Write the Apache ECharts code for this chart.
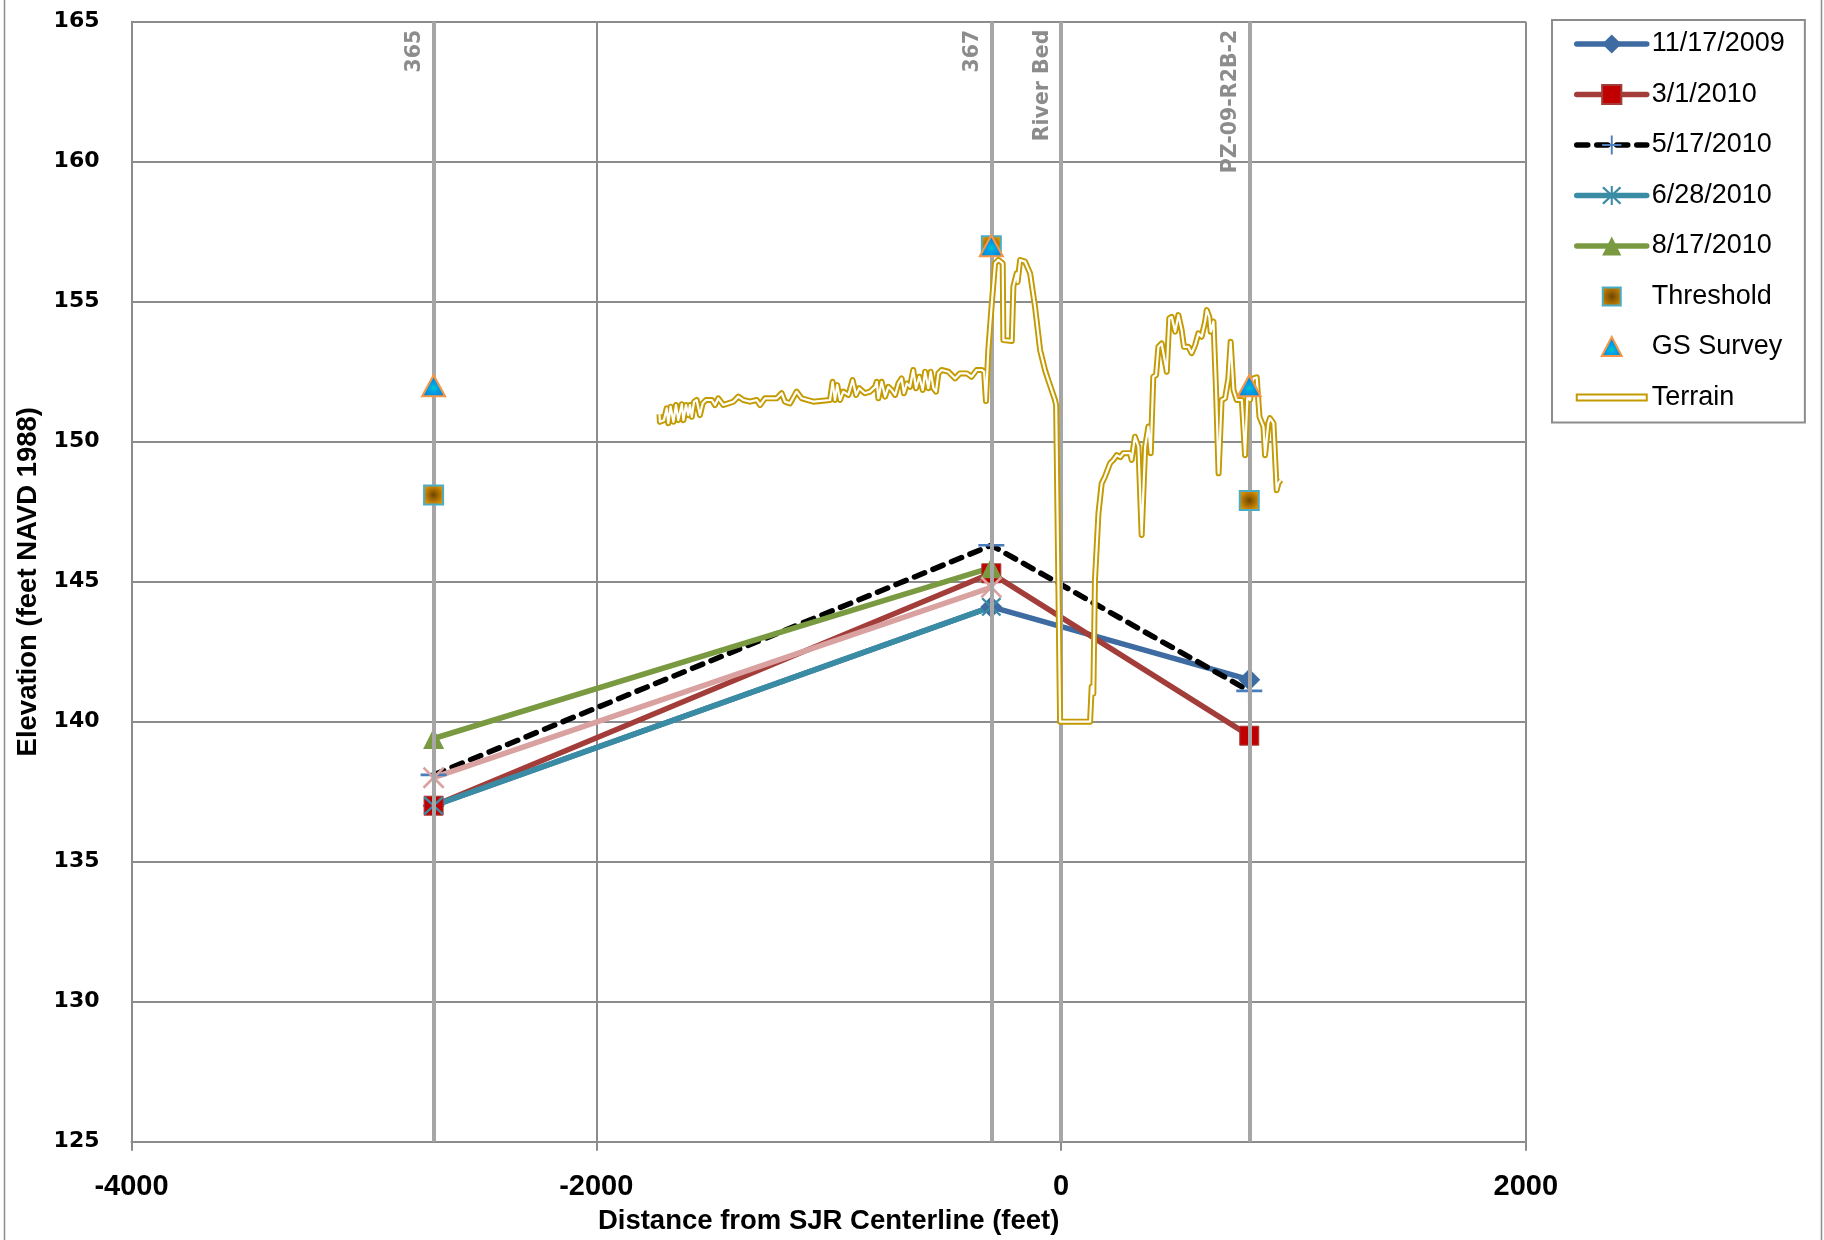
<!DOCTYPE html>
<html><head><meta charset="utf-8">
<script src="https://cdn.jsdelivr.net/npm/echarts@6/dist/echarts.min.js"></script>
<style>html,body{margin:0;padding:0;background:#fff}#c{width:1824px;height:1240px}</style>
</head><body><div id="c"></div>
<script>
// ---- data ----
const wellDistance = [-2700, -300, 810];
const elev20091117 = [137.0, 144.1, 141.5];
const elev20100301 = [137.0, 145.3, 139.5];
const elev20100517 = [138.1, 146.3, 141.1];
const elev20100628 = [137.0, 144.1, null];
const elev20100817 = [139.4, 145.5, null];
const elevUnlabeled = [138.0, 144.8, null];
const thresholdElev = [148.1, 157.0, 147.9];
const gsSurveyElev = [152.0, 157.0, 152.0];
const markerDistance = [-2700, -300, 0, 810];
const markerLabels = ['365', '367', 'River Bed', 'PZ-09-R2B-2'];
const terrain = [
[-1728,150.98],[-1726,150.71],[-1709,150.77],[-1697,151.19],[-1690,150.66],[-1680,151.25],[-1668,150.71],[-1657,151.31],[-1647,150.77],[-1632,151.34],[-1625,150.77],[-1614,151.31],[-1604,150.95],[-1597,151.31],[-1589,150.89],[-1579,151.43],[-1568,151.49],[-1554,150.95],[-1542,151.37],[-1528,151.49],[-1503,151.49],[-1489,151.31],[-1475,151.55],[-1453,151.31],[-1432,151.37],[-1410,151.43],[-1389,151.61],[-1367,151.49],[-1338,151.43],[-1310,151.49],[-1295,151.31],[-1274,151.55],[-1224,151.55],[-1202,151.73],[-1188,151.43],[-1166,151.37],[-1138,151.79],[-1116,151.55],[-1066,151.43],[-994,151.49],[-983,152.14],[-973,151.49],[-963,152.02],[-951,151.49],[-937,151.79],[-915,151.67],[-897,152.2],[-882,151.67],[-868,151.91],[-844,151.73],[-822,151.79],
[-800,151.96],[-793,152.14],[-786,151.55],[-772,152.14],[-757,151.61],[-743,151.96],[-729,151.85],[-714,151.67],[-700,152.08],[-686,152.26],[-676,151.73],[-664,152.08],[-650,151.96],[-636,152.56],[-624,151.91],[-610,152.32],[-595,151.85],[-585,152.5],[-571,151.91],[-561,152.5],[-549,151.91],[-538,151.79],[-528,152.44],[-514,152.56],[-485,152.5],[-456,152.26],[-435,152.44],[-406,152.44],[-385,152.32],[-363,152.56],[-341,152.56],[-331,152.5],[-323,151.45],[-313,153.27],[-299,154.82],[-284,156.37],[-270,156.49],[-251,156.37],[-248,153.63],[-212,153.6],[-205,155.54],[-191,156.01],[-187,155.7],[-176,156.49],[-155,156.43],[-133,156.01],[-112,154.82],[-90,153.27],[-69,152.56],[-55,152.2],[-26,151.49],[-21,151.3],[-4,140.0],[125,140.0],[132,141.25],[139,141.0],[146,145.06],[161,147.44],[175,148.51],[189,148.75],[211,149.23],[225,149.35],[240,149.52],[255,149.45],[268,149.59],[297,149.59],[304,149.35],[318,150.18],[333,149.82],[347,146.67],[362,149.82],[376,150.54],[386,149.59],[397,152.32],[409,152.38],[419,153.39],[433,153.51],[440,153.45],[455,152.5],[466,154.41],[476,154.46],[491,153.93],[505,154.52],[519,153.99],[529,153.39],[548,153.39],[562,153.16],[577,153.45],[591,153.87],[605,153.75],[620,154.29],[627,154.7],[638,154.46],[644,153.93],[656,154.29],[667,151.85],[678,148.87],[691,151.49],[706,151.55],[720,152.26],[730,153.57],[742,151.85],[756,151.49],[778,151.49],[792,149.52],[802,151.61],[813,151.49],[828,152.26],[842,152.3],[854,150.89],[871,150.54],[878,149.52],[892,150.66],[899,150.84],[914,150.66],[928,148.27],[935,148.51],[945,148.63]
];
const xMin = -4000, xMax = 2000, xStep = 2000;
const yMin = 125, yMax = 165, yStep = 5;

// ---- styling ----
const SANS = '"Liberation Sans",Arial,sans-serif';
const VERD = '"DejaVu Sans",Verdana,sans-serif';
const GRID = '#8C8C8C';
const TERRAIN = '#C39A00';
const pair = (ys) => wellDistance.map((x, i) => [x, ys[i]]).filter(p => p[1] !== null);
const P_PLUS = 'path://M0,45H100V55H0ZM45,0H55V100H45Z';
const P_STAR = 'path://M45,0H55V100H45Z M3,11L11,3L97,89L89,97Z M89,3L97,11L11,97L3,89Z';
const P_X = 'path://M3,11L11,3L97,89L89,97Z M89,3L97,11L11,97L3,89Z';
const thresholdFill = { type: 'radial', x: 0.5, y: 0.5, r: 0.6, colorStops: [{ offset: 0, color: '#6E4600' }, { offset: 1, color: '#F2A000' }] };
const gsFill = { type: 'radial', x: 0.5, y: 0.6, r: 0.6, colorStops: [{ offset: 0, color: '#00C8C8' }, { offset: 0.3, color: '#00A0E8' }, { offset: 1, color: '#0078D0' }] };

function lineSeries(name, ys, color, symbol, symColor, size, extra) {
  return Object.assign({
    name, type: 'line', data: pair(ys), z: 2,
    lineStyle: { color, width: 5.5, cap: 'round' },
    itemStyle: { color: symColor, borderColor: symColor, borderWidth: 0 },
    symbol, symbolSize: size, showSymbol: true, animation: false
  }, extra || {});
}

const option = {
  animation: false,
  backgroundColor: '#fff',
  grid: { left: 131.5, right: 298.2, top: 21.7, bottom: 98.3, containLabel: false, outerBoundsMode: 'none' },
  xAxis: {
    type: 'value', min: xMin, max: xMax, interval: xStep,
    axisLine: { show: true, onZero: false, lineStyle: { color: GRID, width: 2 } },
    axisTick: { show: true, length: 9, lineStyle: { color: GRID, width: 2 } },
    splitLine: { show: true, lineStyle: { color: GRID, width: 2 } },
    axisLabel: { color: '#000', fontFamily: SANS, fontWeight: 'bold', fontSize: 29, margin: 31, formatter: v => String(v) },
    name: 'Distance from SJR Centerline (feet)', nameLocation: 'middle', nameGap: 66,
    nameTextStyle: { color: '#000', fontFamily: SANS, fontWeight: 'bold', fontSize: 27.5 }
  },
  yAxis: {
    type: 'value', min: yMin, max: yMax, interval: yStep,
    axisLine: { show: true, onZero: false, lineStyle: { color: GRID, width: 2 } },
    axisTick: { show: false },
    splitLine: { show: true, lineStyle: { color: GRID, width: 2 } },
    axisLabel: { color: '#000', fontFamily: VERD, fontWeight: 'bold', fontSize: 22, margin: 32, formatter: v => String(v) },
    name: 'Elevation (feet NAVD 1988)', nameLocation: 'middle', nameGap: 87,
    nameTextStyle: { color: '#000', fontFamily: SANS, fontWeight: 'bold', fontSize: 27.5 }
  },
  legend: {
    orient: 'vertical', left: 1552, top: 20,
    backgroundColor: '#fff', borderColor: '#8C8C8C', borderWidth: 2,
    padding: [9, 20, 10, 22], itemWidth: 70, itemHeight: 24, itemGap: 20.5,
    lineStyle: { width: 'inherit', type: 'inherit' },
    textStyle: { color: '#000', fontFamily: SANS, fontSize: 27, lineHeight: 30 },
    data: ['11/17/2009', '3/1/2010', '5/17/2010', '6/28/2010', '8/17/2010',
      { name: 'Threshold', icon: 'path://M0,0M26,3H44V21H26ZM70,24', itemStyle: { color: thresholdFill, borderColor: '#4BACC6', borderWidth: 2 } },
      { name: 'GS Survey', icon: 'path://M0,0M35,2L45,21H25ZM70,24', itemStyle: { color: gsFill, borderColor: '#F79646', borderWidth: 2 } },
      { name: 'Terrain', icon: 'path://M0,0M0,9H70V15H0ZM70,24', itemStyle: { color: '#fff', borderColor: TERRAIN, borderWidth: 2 } }]
  },
  series: [
    lineSeries('11/17/2009', elev20091117, '#3E6BA2', 'diamond', '#3E6BA2', [22, 22]),
    lineSeries('3/1/2010', elev20100301, '#A23D3A', 'rect', '#C00000', 19, { itemStyle: { color: '#C00000', borderColor: '#A23D3A', borderWidth: 1 } }),
    lineSeries('5/17/2010', elev20100517, '#000000', P_PLUS, '#4A7EBB', 26, { lineStyle: { color: '#000', width: 5.5, type: [11, 9], cap: 'round' } }),
    lineSeries('6/28/2010', elev20100628, '#3A8CA5', P_STAR, '#3A8CA5', 20),
    lineSeries('8/17/2010', elev20100817, '#7A9A42', 'triangle', '#7A9A42', 21),
    lineSeries('unlabeled', elevUnlabeled, '#D9A2A0', P_X, '#D9A2A0', 22),
    {
      name: 'markers', type: 'line', data: [], z: 3, animation: false,
      markLine: {
        silent: true, symbol: 'none', z: 3, animation: false,
        lineStyle: { color: '#A6A6A6', width: 4, type: 'solid' },
        label: { show: true, position: 'insideEndTop', formatter: p => p.name, color: '#8C8C8C',
          fontFamily: VERD, fontWeight: 'bold', fontSize: 20.5, distance: [8, 8] },
        emphasis: { disabled: true },
        data: markerDistance.map((x, i) => ({ xAxis: x, name: markerLabels[i] }))
      }
    },
    {
      name: 'Terrain', type: 'line', data: terrain, z: 4, showSymbol: false, symbol: 'none',
      lineStyle: { color: TERRAIN, width: 6, join: 'round' }, itemStyle: { color: '#fff', borderColor: TERRAIN }, animation: false
    },
    {
      name: 'terrain-inner', type: 'line', data: terrain, z: 5, showSymbol: false, symbol: 'none',
      lineStyle: { color: '#fff', width: 2.2, join: 'round' }, animation: false
    },
    {
      name: 'Threshold', type: 'scatter', data: pair(thresholdElev), z: 6, symbol: 'rect', symbolSize: 19,
      itemStyle: { color: thresholdFill, borderColor: '#4BACC6', borderWidth: 2, opacity: 1 }, animation: false
    },
    {
      name: 'GS Survey', type: 'scatter', data: pair(gsSurveyElev), z: 7, symbol: 'triangle', symbolSize: [23, 21],
      itemStyle: { color: gsFill, borderColor: '#F79646', borderWidth: 2, opacity: 1 }, animation: false
    }
  ],
  graphic: [
    { type: 'rect', shape: { x: 4.5, y: -10, width: 1817, height: 1260 }, style: { fill: 'none', stroke: '#8C8C8C', lineWidth: 1.5 }, silent: true, z: 0 }
  ]
};
const chart = echarts.init(document.getElementById('c'), null, { renderer: 'canvas' });
chart.setOption(option);
</script>
</body></html>
